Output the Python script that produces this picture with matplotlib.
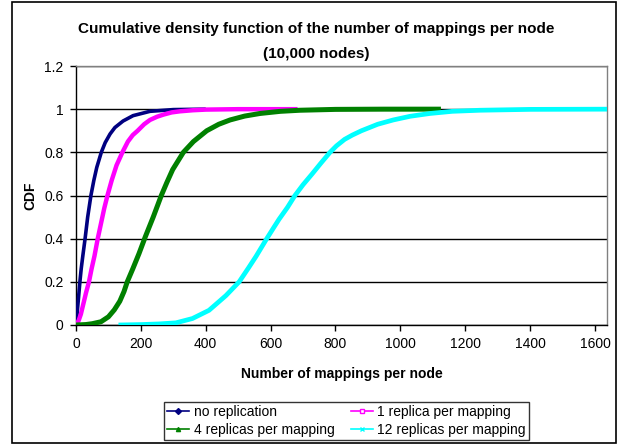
import matplotlib
matplotlib.use("Agg")
import matplotlib.pyplot as plt
from matplotlib.lines import Line2D
from matplotlib.patches import Rectangle

plt.rcParams['font.family'] = ['Liberation Sans', 'DejaVu Sans']

# ---- data ----
no_rep_x = [0, 2, 5, 8, 12, 16, 21, 28, 36, 46, 55, 64, 78, 90, 105, 120, 145, 176, 228, 300, 400]
no_rep_y = [0, 0.03, 0.08, 0.13, 0.2, 0.26, 0.32, 0.4, 0.5, 0.6, 0.67, 0.73, 0.8, 0.845, 0.885,
            0.915, 0.945, 0.97, 0.99, 0.998, 1.0]

rep1_x = [0, 8, 15, 23, 31, 40, 48, 57, 67, 77, 87, 97, 110, 125, 143, 160, 175, 190, 210, 228,
          250, 270, 295, 320, 360, 400, 500, 683]
rep1_y = [0, 0.02, 0.05, 0.1, 0.15, 0.2, 0.26, 0.32, 0.4, 0.47, 0.54, 0.6, 0.67, 0.74, 0.8, 0.85,
          0.88, 0.9, 0.93, 0.95, 0.965, 0.975, 0.985, 0.99, 0.995, 0.998, 1.0, 1.0]

rep4_x = [0, 30, 50, 77, 100, 118, 135, 148, 158, 175, 194, 214, 238, 263, 280, 298, 331, 362,
          403, 440, 475, 520, 567, 630, 690, 800, 950, 1125]
rep4_y = [0, 0.002, 0.006, 0.015, 0.038, 0.07, 0.11, 0.155, 0.2, 0.26, 0.33, 0.41, 0.5, 0.6,
          0.66, 0.72, 0.8, 0.85, 0.9, 0.93, 0.95, 0.968, 0.98, 0.99, 0.995, 0.999, 1.0, 1.0]

rep12_x = [131, 200, 256, 308, 359, 410, 462, 503, 532, 555, 588, 609, 626, 652, 675, 700, 728,
           755, 783, 803, 828, 852, 880, 930, 978, 1030, 1091, 1160, 1245, 1400, 1637]
rep12_y = [0, 0.002, 0.005, 0.01, 0.03, 0.068, 0.136, 0.2, 0.265, 0.318, 0.4, 0.45, 0.49, 0.545,
           0.6, 0.65, 0.7, 0.75, 0.8, 0.83, 0.86, 0.88, 0.9, 0.93, 0.95, 0.967, 0.98, 0.99,
           0.995, 0.999, 1.0]

series_labels = ["no replication", "1 replica per mapping",
                 "4 replicas per mapping", "12 replicas per mapping"]
x_ticks = [0, 200, 400, 600, 800, 1000, 1200, 1400, 1600]
y_ticks = [0, 0.2, 0.4, 0.6, 0.8, 1, 1.2]
y_tick_labels = ["0", "0.2", "0.4", "0.6", "0.8", "1", "1.2"]

colors = ["#000080", "#FF00FF", "#008000", "#00FFFF"]
markers = ["D", "s", "^", "x"]

W, H = 622, 446
fig = plt.figure(figsize=(W / 100, H / 100), dpi=100)
fig.patch.set_facecolor("white")

# outer chart frame
fig.patches.append(Rectangle((12 / W, 1 - 443 / H), (616 - 12) / W, (443 - 2) / H,
                             transform=fig.transFigure, fill=False,
                             edgecolor="black", linewidth=1.2))

ax = fig.add_axes([76 / W, 1 - 325 / H, (607 - 76) / W, (325 - 66) / H])

data = [(no_rep_x, no_rep_y), (rep1_x, rep1_y), (rep4_x, rep4_y), (rep12_x, rep12_y)]
widths = [2.6, 3.2, 3.6, 3.4]
for (xs, ys), c, lw in zip(data, colors, widths):
    ax.plot(xs, ys, color=c, linewidth=lw, solid_capstyle="butt",
            solid_joinstyle="round", zorder=3)

ax.set_xlim(0, 1637)
ax.set_ylim(0, 1.2)
ax.set_xticks(x_ticks)
ax.set_xticklabels([str(t) for t in x_ticks])
ax.set_yticks(y_ticks)
ax.set_yticklabels(y_tick_labels)
ax.tick_params(axis="both", labelsize=10, length=4, width=1, color="black",
               direction="out", pad=5)
ax.yaxis.grid(True, color="black", linewidth=1)
ax.set_axisbelow(True)
for s in ["left", "bottom"]:
    ax.spines[s].set_color("black")
    ax.spines[s].set_linewidth(1)
for s in ["top", "right"]:
    ax.spines[s].set_color("#808080")
    ax.spines[s].set_linewidth(1)

ax.set_xlabel("Number of mappings per node", fontsize=10, fontweight="bold", labelpad=11)
ax.set_ylabel("CDF", fontsize=10, fontweight="bold", labelpad=5)

fig.text(316 / W, 1 - 29 / H, "Cumulative density function of the number of mappings per node",
         ha="center", va="center", fontsize=11, fontweight="bold")
fig.text(316 / W, 1 - 54 / H, "(10,000 nodes)",
         ha="center", va="center", fontsize=11, fontweight="bold")

handles = [Line2D([0], [0], color=c, marker=m, markersize=3, linewidth=1.2,
                  markerfacecolor=c if m != "s" else "white")
           for c, m in zip(colors, markers)]
order = [0, 2, 1, 3]
leg = fig.legend([handles[i] for i in order], [series_labels[i] for i in order],
                 ncol=2, loc="center", bbox_to_anchor=((165 + 528) / 2 / W, 1 - 421 / H),
                 fontsize=10, frameon=True, fancybox=False, handlelength=1.6,
                 handletextpad=0.3, columnspacing=1.2, borderpad=0.25,
                 labelspacing=0.25, borderaxespad=0)
leg.get_frame().set_edgecolor("black")
leg.get_frame().set_linewidth(1)

fig.savefig("out.png", dpi=100)
